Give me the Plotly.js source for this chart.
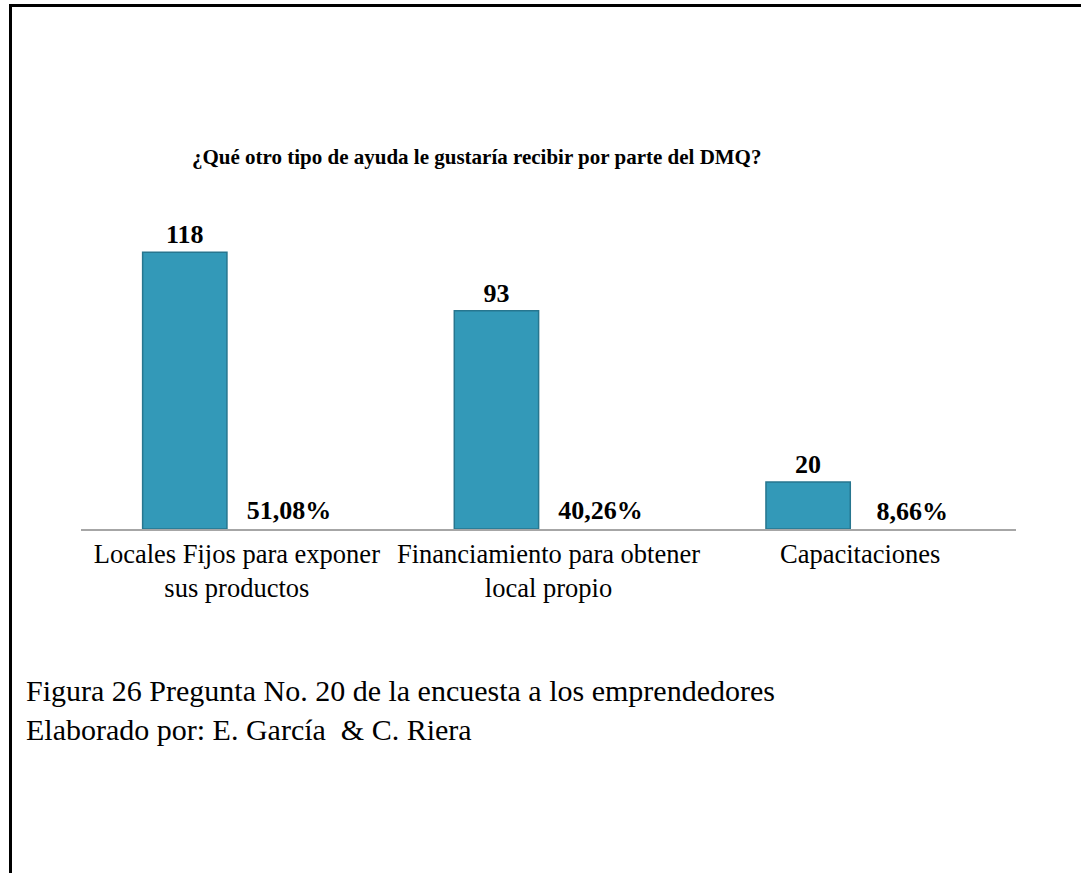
<!DOCTYPE html>
<html>
<head>
<meta charset="utf-8">
<script src="https://cdn.plot.ly/plotly-3.0.1.min.js"></script>
<style>
  html, body { margin: 0; padding: 0; background: #fff; }
  #wrap { position: relative; width: 1081px; height: 873px; }
  #chart { width: 1081px; height: 873px; }
  #frame { position: absolute; left: 9px; top: 4px; right: 0; bottom: 0;
           border-left: 3px solid #000; border-top: 3px solid #000; pointer-events: none; }
</style>
</head>
<body>
<div id="wrap">
  <div id="chart"></div>
  <div id="frame"></div>
</div>
<script>
const categories = [
  "Locales Fijos para exponer<br>sus productos",
  "Financiamiento para obtener<br>local propio",
  "Capacitaciones"
];
const counts = [118, 93, 20];
const shares = [0.5108, 0.4026, 0.0866];
const titleText = "¿Qué otro tipo de ayuda le gustaría recibir por parte del DMQ?";
const captionLines = [
  "Figura 26 Pregunta No. 20 de la encuesta a los emprendedores",
  "Elaborado por: E. García  & C. Riera"
];

const serif = "Liberation Serif, Times New Roman, serif";
const fmtPct = v => (v * 100).toFixed(2).replace('.', ',') + '%';

const traces = [
  {
    type: 'bar',
    x: categories,
    y: counts,
    text: counts.map(String),
    textposition: 'outside',
    constraintext: 'none',
    textfont: { family: serif, size: 26, color: '#000', weight: 'bold' },
    marker: { color: '#3399b8', line: { color: '#27768f', width: 1.5 } },
    cliponaxis: false,
    hoverinfo: 'skip'
  },
  {
    type: 'bar',
    x: categories,
    y: shares,
    text: shares.map(fmtPct),
    textposition: 'outside',
    constraintext: 'none',
    textfont: { family: serif, size: 26, color: '#000', weight: 'bold' },
    marker: { color: 'rgba(0,0,0,0)' },
    cliponaxis: false,
    hoverinfo: 'skip'
  }
];

const layout = {
  width: 1081,
  height: 873,
  margin: { l: 81, r: 65, t: 224, b: 344 },
  paper_bgcolor: '#fff',
  plot_bgcolor: '#fff',
  showlegend: false,
  barmode: 'group',
  bargap: 0.332,
  bargroupgap: 0.19,
  title: {
    text: titleText,
    font: { family: serif, size: 21, color: '#000', weight: 'bold' },
    xref: 'container', yref: 'container',
    x: 0.441, xanchor: 'center',
    y: 1 - 157 / 873, yanchor: 'middle'
  },
  xaxis: {
    showline: true, linecolor: '#a6a6a6', linewidth: 2,
    ticks: '', showgrid: false, zeroline: false,
    tickfont: { family: serif, size: 26.5, color: '#000' },
    fixedrange: true
  },
  yaxis: {
    range: [0, 130],
    visible: false, showgrid: false, zeroline: false,
    fixedrange: true
  },
  annotations: [{
    xref: 'paper', yref: 'paper',
    x: -0.061, y: -0.469,
    xanchor: 'left', yanchor: 'top',
    align: 'left',
    showarrow: false,
    text: captionLines.join('<br>'),
    font: { family: serif, size: 30, color: '#000' }
  }]
};

Plotly.newPlot('chart', traces, layout, { displayModeBar: false, staticPlot: true });
</script>
</body>
</html>
